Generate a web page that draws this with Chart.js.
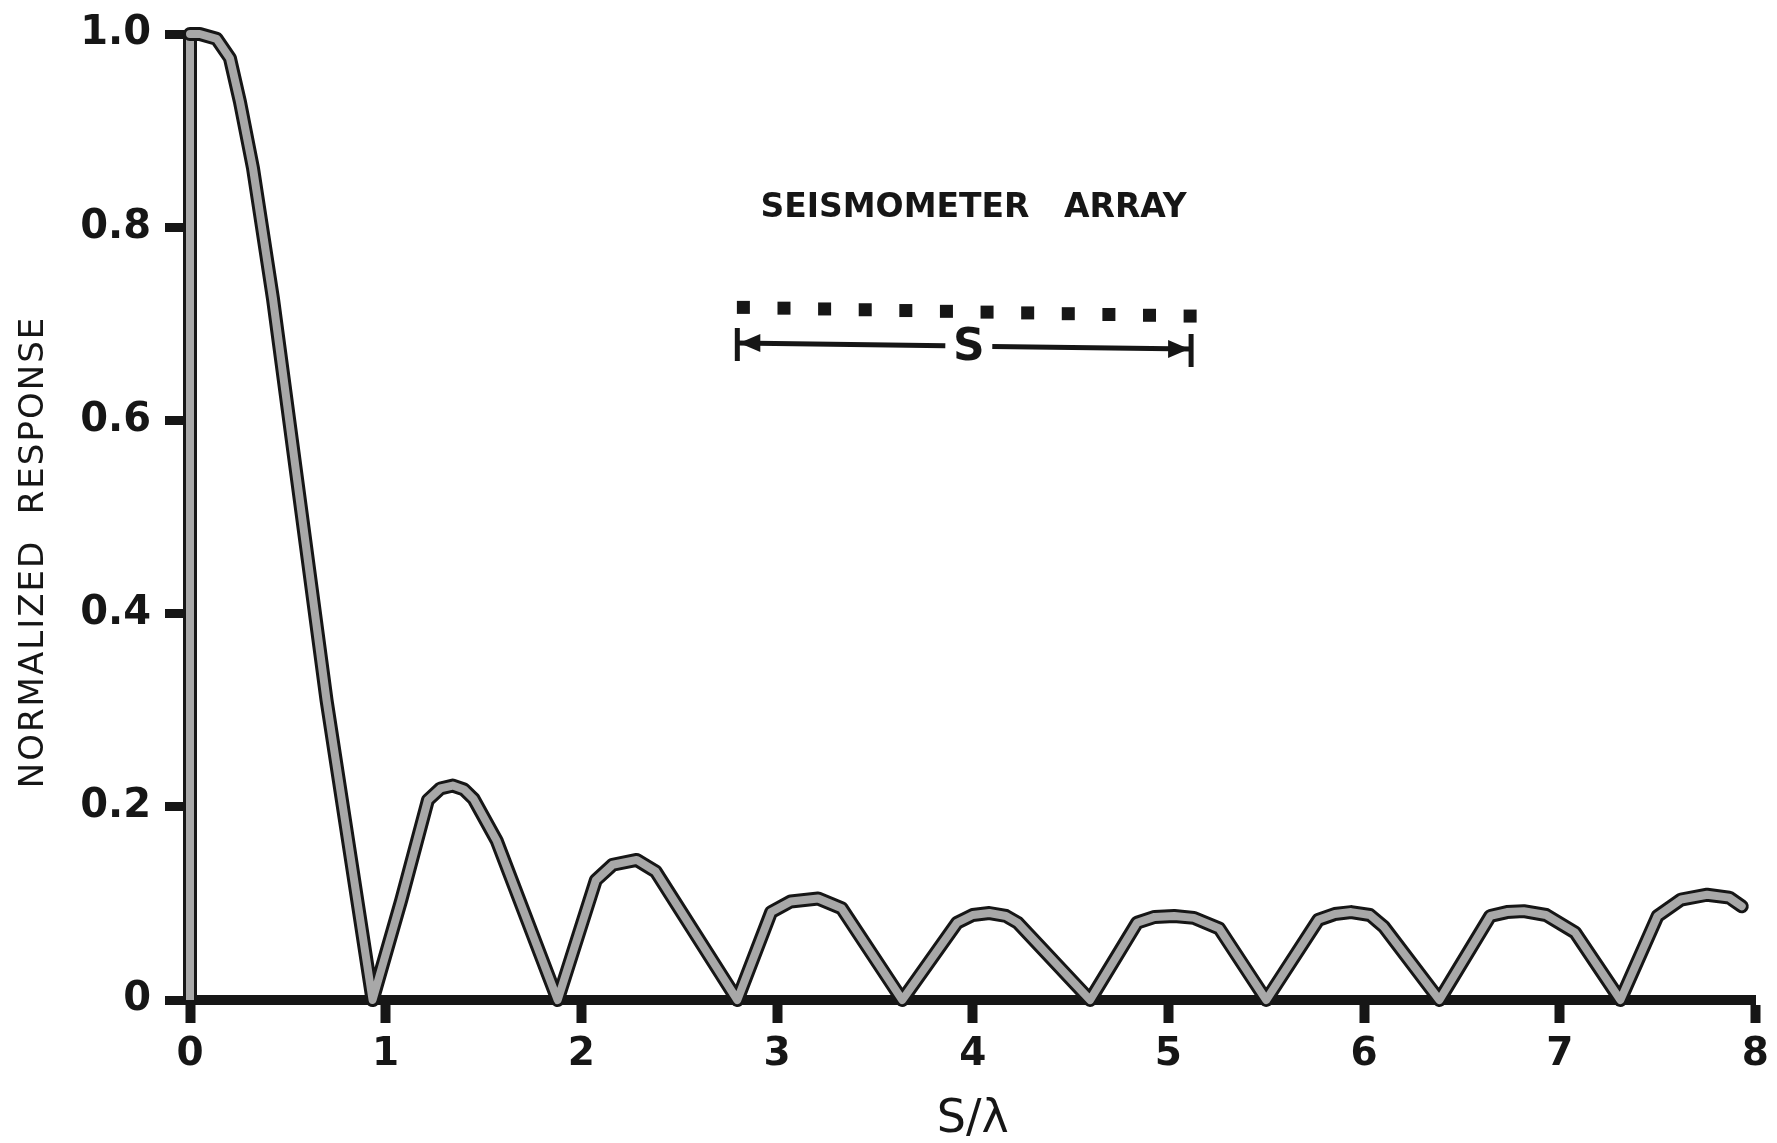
<!DOCTYPE html>
<html>
<head>
<meta charset="utf-8">
<title>Seismometer array response</title>
<script src="https://cdn.jsdelivr.net/npm/chart.js@4.4.1/dist/chart.umd.min.js"></script>
<style>
  html, body { margin: 0; padding: 0; background: #fff; }
  #wrap { width: 1777px; height: 1143px; position: relative; }
</style>
</head>
<body>
<div id="wrap"><canvas id="response-chart"></canvas></div>
<script>
// Response of the array against s/λ
const sOverLambda = [
  0.00, 0.05, 0.136, 0.204, 0.255, 0.322, 0.424, 0.698, 0.933,
  1.079, 1.216, 1.28, 1.343, 1.40, 1.45, 1.567, 1.879,
  2.074, 2.16, 2.283, 2.38, 2.797,
  2.97, 3.07, 3.21, 3.33, 3.64,
  3.92, 4.0, 4.085, 4.17, 4.23, 4.60,
  4.84, 4.93, 5.03, 5.13, 5.26, 5.50,
  5.766, 5.85, 5.934, 6.03, 6.10, 6.385,
  6.645, 6.73, 6.816, 6.93, 7.078, 7.31,
  7.50, 7.62, 7.753, 7.866, 7.93
];
const response = [
  1.00, 1.00, 0.995, 0.975, 0.93, 0.861, 0.726, 0.31, 0.00,
  0.103, 0.207, 0.219, 0.222, 0.218, 0.208, 0.165, 0.00,
  0.124, 0.140, 0.145, 0.133, 0.00,
  0.091, 0.102, 0.105, 0.095, 0.00,
  0.080, 0.088, 0.090, 0.087, 0.080, 0.00,
  0.080, 0.086, 0.087, 0.085, 0.074, 0.00,
  0.083, 0.089, 0.091, 0.088, 0.076, 0.00,
  0.087, 0.091, 0.092, 0.088, 0.070, 0.00,
  0.087, 0.104, 0.109, 0.106, 0.097
];

const xTicks = [0, 1, 2, 3, 4, 5, 6, 7, 8];
const xTickLabels = ['0', '1', '2', '3', '4', '5', '6', '7', '8'];
const yTicks = [0, 0.2, 0.4, 0.6, 0.8, 1.0];
const yTickLabels = ['0', '0.2', '0.4', '0.6', '0.8', '1.0'];

const xTitle = 'S/λ';
const yTitle = 'NORMALIZED  RESPONSE';
const arrayTitle = 'SEISMOMETER   ARRAY';
const arrayLabel = 'S';
const stationCount = 12;

const ink = '#161616';
const pen = '#a8a8a8';

const points = sOverLambda.map((s, i) => ({ x: s, y: response[i] }));

// y axis drawn with the same double pen as the curve
const penAxis = {
  id: 'penAxis',
  beforeDatasetsDraw(chart) {
    const { ctx, scales: { x, y } } = chart;
    const ax = x.getPixelForValue(0);
    ctx.save();
    ctx.lineCap = 'butt';
    ctx.beginPath();
    ctx.moveTo(ax, y.getPixelForValue(0));
    ctx.lineTo(ax, y.getPixelForValue(1));
    ctx.strokeStyle = ink;
    ctx.lineWidth = 14;
    ctx.stroke();
    ctx.strokeStyle = pen;
    ctx.lineWidth = 8;
    ctx.stroke();
    ctx.restore();
  }
};

// y title and the little array sketch
const notes = {
  id: 'notes',
  afterDraw(chart) {
    const { ctx, scales: { x, y } } = chart;
    const px = v => x.getPixelForValue(v);
    const py = v => y.getPixelForValue(v);
    ctx.save();
    ctx.fillStyle = ink;
    ctx.strokeStyle = ink;

    // vertical axis title
    ctx.save();
    ctx.translate(34, 552);
    ctx.rotate(-Math.PI / 2);
    ctx.font = '34px "DejaVu Sans"';
    ctx.letterSpacing = '2px';
    ctx.textAlign = 'center';
    ctx.textBaseline = 'middle';
    ctx.fillText(yTitle, 0, 0);
    ctx.restore();

    // heading
    ctx.font = 'bold 33px "DejaVu Sans"';
    ctx.textAlign = 'left';
    ctx.textBaseline = 'middle';
    ctx.fillText(arrayTitle, px(2.915), py(0.819));

    // stations, a slightly tilted row
    const sx0 = px(2.828), sx1 = px(5.111);
    const sy0 = py(0.717), sy1 = py(0.708);
    for (let i = 0; i < stationCount; i++) {
      const t = i / (stationCount - 1);
      const cx = sx0 + (sx1 - sx0) * t;
      const cy = sy0 + (sy1 - sy0) * t;
      ctx.fillRect(cx - 6.5, cy - 6.5, 13, 13);
    }

    // dimension line with the S in the middle
    const lx = px(2.797), rx = px(5.116);
    const ly = py(0.680), ry = py(0.674);
    const yAt = xx => ly + (ry - ly) * (xx - lx) / (rx - lx);
    const gapL = px(3.86), gapR = px(4.10);
    ctx.lineWidth = 5;
    ctx.beginPath();
    ctx.moveTo(lx, ly);
    ctx.lineTo(gapL, yAt(gapL));
    ctx.moveTo(gapR, yAt(gapR));
    ctx.lineTo(rx, ry);
    ctx.stroke();

    ctx.beginPath();
    ctx.moveTo(lx, ly - 15);
    ctx.lineTo(lx, ly + 18);
    ctx.moveTo(rx, ry - 15);
    ctx.lineTo(rx, ry + 18);
    ctx.stroke();

    ctx.beginPath();
    ctx.moveTo(lx + 2, ly);
    ctx.lineTo(lx + 23, ly - 9);
    ctx.lineTo(lx + 23, ly + 9);
    ctx.closePath();
    ctx.moveTo(rx - 2, ry);
    ctx.lineTo(rx - 23, ry - 9);
    ctx.lineTo(rx - 23, ry + 9);
    ctx.closePath();
    ctx.fill();

    ctx.font = 'bold 44px "DejaVu Sans"';
    ctx.textAlign = 'center';
    ctx.fillText(arrayLabel, (gapL + gapR) / 2, yAt((gapL + gapR) / 2) + 2);
    ctx.restore();
  }
};

const ctx = document.getElementById('response-chart').getContext('2d');

const chart = new Chart(ctx, {
  type: 'line',
  data: {
    datasets: [
      {
        data: points,
        borderColor: pen,
        borderWidth: 8,
        pointRadius: 0,
        tension: 0,
        borderJoinStyle: 'round',
        borderCapStyle: 'round',
        clip: false,
        order: 0,
      },
      {
        data: points,
        borderColor: ink,
        borderWidth: 14,
        pointRadius: 0,
        tension: 0,
        borderJoinStyle: 'round',
        borderCapStyle: 'round',
        clip: false,
        order: 1,
      },
    ],
  },
  options: {
    responsive: true,
    maintainAspectRatio: false,
    devicePixelRatio: 1,
    animation: false,
    layout: { padding: { top: 28, right: 17, bottom: 0, left: 0 } },
    plugins: {
      legend: { display: false },
      tooltip: { enabled: false },
    },
    scales: {
      x: {
        type: 'linear',
        min: 0,
        max: 8,
        afterFit: s => { s.height = 143; },
        afterBuildTicks: s => { s.ticks = xTicks.map(v => ({ value: v })); },
        grid: {
          drawOnChartArea: false,
          drawTicks: true,
          tickLength: 23,
          tickWidth: 10,
          tickColor: ink,
        },
        border: { display: true, color: ink, width: 10 },
        ticks: {
          color: ink,
          padding: 8,
          maxRotation: 0,
          font: { family: 'DejaVu Sans', size: 39, weight: 'bold' },
          callback: (v, i) => xTickLabels[i],
        },
        title: {
          display: true,
          text: xTitle,
          color: ink,
          padding: 0,
          font: { family: 'DejaVu Sans', size: 46, lineHeight: 1 },
        },
      },
      y: {
        type: 'linear',
        min: 0,
        max: 1,
        afterFit: s => { s.width = 190; },
        afterBuildTicks: s => { s.ticks = yTicks.map(v => ({ value: v })); },
        grid: {
          drawOnChartArea: false,
          drawTicks: true,
          tickLength: 25,
          tickWidth: 9,
          tickColor: ink,
        },
        border: { display: false },
        ticks: {
          color: ink,
          padding: 14,
          font: { family: 'DejaVu Sans', size: 40, weight: 'bold', lineHeight: 1 },
          callback: (v, i) => yTickLabels[i],
        },
      },
    },
  },
  plugins: [penAxis, notes],
});
</script>
</body>
</html>
